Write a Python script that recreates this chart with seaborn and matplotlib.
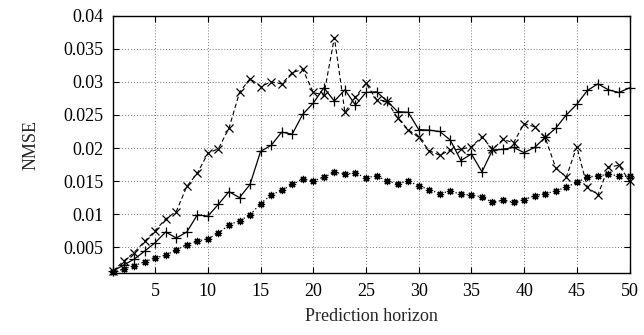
import matplotlib
matplotlib.use("Agg")
import matplotlib.pyplot as plt
import seaborn as sns
import pandas as pd

horizon = list(range(1, 51))
series_a = [0.0014, 0.0029, 0.0042, 0.0059, 0.0075, 0.0093, 0.0104, 0.0142, 0.0162, 0.0192,
            0.0199, 0.0230, 0.0284, 0.0305, 0.0293, 0.0300, 0.0297, 0.0314, 0.0319, 0.0284,
            0.0280, 0.0367, 0.0254, 0.0277, 0.0298, 0.0273, 0.0271, 0.0245, 0.0228, 0.0216,
            0.0196, 0.0189, 0.0197, 0.0198, 0.0202, 0.0217, 0.0198, 0.0213, 0.0208, 0.0237,
            0.0232, 0.0216, 0.0170, 0.0156, 0.0202, 0.0141, 0.0129, 0.0171, 0.0174, 0.0150]
series_b = [0.0014, 0.0023, 0.0032, 0.0044, 0.0057, 0.0073, 0.0064, 0.0073, 0.0099, 0.0097,
            0.0115, 0.0134, 0.0125, 0.0145, 0.0195, 0.0204, 0.0224, 0.0221, 0.0251, 0.0268,
            0.0291, 0.0271, 0.0288, 0.0265, 0.0284, 0.0285, 0.0271, 0.0255, 0.0254, 0.0228,
            0.0227, 0.0225, 0.0212, 0.0181, 0.0191, 0.0164, 0.0197, 0.0198, 0.0201, 0.0193,
            0.0201, 0.0216, 0.0230, 0.0250, 0.0266, 0.0287, 0.0297, 0.0288, 0.0284, 0.0291]
series_c = [0.0012, 0.0017, 0.0022, 0.0028, 0.0034, 0.0038, 0.0046, 0.0054, 0.0059, 0.0063,
            0.0071, 0.0084, 0.0090, 0.0099, 0.0116, 0.0129, 0.0136, 0.0145, 0.0153, 0.0150,
            0.0156, 0.0163, 0.0161, 0.0162, 0.0155, 0.0158, 0.0150, 0.0146, 0.0150, 0.0143,
            0.0137, 0.0131, 0.0135, 0.0130, 0.0129, 0.0126, 0.0118, 0.0121, 0.0118, 0.0122,
            0.0128, 0.0131, 0.0135, 0.0141, 0.0148, 0.0156, 0.0158, 0.0160, 0.0158, 0.0157]

x_ticks = [5, 10, 15, 20, 25, 30, 35, 40, 45, 50]
y_ticks = [0.005, 0.01, 0.015, 0.02, 0.025, 0.03, 0.035, 0.04]
y_tick_labels = ["0.005", "0.01", "0.015", "0.02", "0.025", "0.03", "0.035", "0.04"]

sns.set_style("ticks")
plt.rcParams['font.family'] = ['Liberation Serif', 'DejaVu Serif']

fig = plt.figure(figsize=(6.44, 3.35), dpi=100)
ax = fig.add_axes([0.1755, 0.184, 0.802, 0.769])

df = pd.DataFrame({"h": horizon, "a": series_a, "b": series_b, "c": series_c})

common = dict(ax=ax, color="black", markeredgecolor="black", markerfacecolor="black",
              clip_on=False)
sns.lineplot(data=df, x="h", y="a", linestyle=(0, (4, 2.5)), linewidth=0.8,
             marker="x", markersize=5.5, markeredgewidth=0.9, **common)
sns.lineplot(data=df, x="h", y="b", linestyle="-", linewidth=0.9,
             marker="+", markersize=6.5, markeredgewidth=0.9, **common)
sns.lineplot(data=df, x="h", y="c", linestyle=(0, (1, 2)), linewidth=0.9,
             marker=(8, 2, 0), markersize=5.2, markeredgewidth=0.9, **common)

ax.set_xlim(1, 50)
ax.set_ylim(0.00105, 0.04)
ax.set_xticks(x_ticks)
ax.set_yticks(y_ticks)
ax.set_yticklabels(y_tick_labels)
ax.grid(True, linestyle=(0, (1, 2)), color="#777777", linewidth=0.7)
ax.tick_params(direction="in", top=True, right=True, labelsize=13, length=4, width=0.8,
               pad=7, colors="black")
for s in ax.spines.values():
    s.set_linewidth(1.0)
    s.set_color("black")
ax.set_xlabel("Prediction horizon", fontsize=13, labelpad=6)
ax.set_ylabel("NMSE", fontsize=13, labelpad=17)

fig.savefig("out.png", dpi=100)
